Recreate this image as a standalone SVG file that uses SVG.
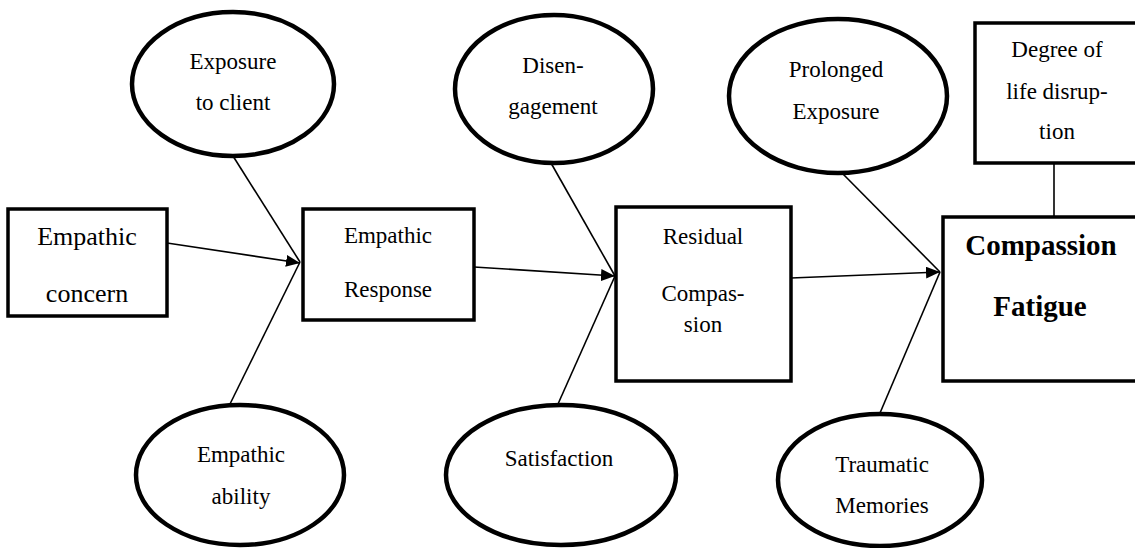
<svg xmlns="http://www.w3.org/2000/svg" width="1135" height="548" viewBox="0 0 1135 548">
<defs>
<marker id="arr" markerUnits="userSpaceOnUse" markerWidth="15" markerHeight="13" refX="14" refY="6" orient="auto">
<path d="M0,0 L14,6 L0,12 z" fill="#000"/>
</marker>
<style>
.box{fill:#fff;stroke:#000;stroke-width:3.5}
.ell{fill:#fff;stroke:#000;stroke-width:4.5}
.t{font-family:'Liberation Serif','Times New Roman',serif;font-size:23px;fill:#000;text-anchor:middle}
.big{font-size:26px}
.bold{font-size:29px;font-weight:bold}
.c{stroke:#000;stroke-width:1.6;fill:none}
</style>
</defs>
<g id="connectors">
<line class="c" x1="167" y1="243" x2="300" y2="263" marker-end="url(#arr)"/>
<line class="c" x1="233" y1="156" x2="300" y2="262"/>
<line class="c" x1="230" y1="404" x2="300" y2="262"/>
<line class="c" x1="474" y1="267" x2="615" y2="276" marker-end="url(#arr)"/>
<line class="c" x1="551" y1="163" x2="615" y2="276"/>
<line class="c" x1="558" y1="404" x2="615" y2="276"/>
<line class="c" x1="791" y1="278" x2="940" y2="272" marker-end="url(#arr)"/>
<line class="c" x1="842" y1="173" x2="940" y2="272"/>
<line class="c" x1="880" y1="413" x2="940" y2="272"/>
<line class="c" x1="1054" y1="163" x2="1054" y2="217"/>
</g>
<g id="empathic-concern">
<rect class="box" x="8" y="209" width="159" height="107"/>
<text class="t big" x="87" y="245">Empathic</text>
<text class="t big" x="87" y="302">concern</text>
</g>
<g id="exposure-to-client">
<ellipse class="ell" cx="233" cy="84" rx="101" ry="72"/>
<text class="t" x="233" y="69">Exposure</text>
<text class="t" x="233" y="110">to client</text>
</g>
<g id="empathic-ability">
<ellipse class="ell" cx="240" cy="475" rx="104" ry="70"/>
<text class="t" x="241" y="462">Empathic</text>
<text class="t" x="241" y="504">ability</text>
</g>
<g id="empathic-response">
<rect class="box" x="303" y="209" width="171" height="111"/>
<text class="t" x="388" y="243">Empathic</text>
<text class="t" x="388" y="297">Response</text>
</g>
<g id="disengagement">
<ellipse class="ell" cx="554" cy="89" rx="99" ry="74"/>
<text class="t" x="553" y="73">Disen-</text>
<text class="t" x="553" y="114">gagement</text>
</g>
<g id="satisfaction">
<ellipse class="ell" cx="561" cy="475" rx="115" ry="70"/>
<text class="t" x="559" y="466">Satisfaction</text>
</g>
<g id="residual-compassion">
<rect class="box" x="616" y="207" width="175" height="174"/>
<text class="t" x="703" y="244">Residual</text>
<text class="t" x="703" y="301">Compas-</text>
<text class="t" x="703" y="332">sion</text>
</g>
<g id="prolonged-exposure">
<ellipse class="ell" cx="838" cy="96" rx="109" ry="77"/>
<text class="t" x="836" y="77">Prolonged</text>
<text class="t" x="836" y="119">Exposure</text>
</g>
<g id="traumatic-memories">
<ellipse class="ell" cx="880" cy="480" rx="102" ry="66"/>
<text class="t" x="882" y="472">Traumatic</text>
<text class="t" x="882" y="513">Memories</text>
</g>
<g id="degree-of-life-disruption">
<rect class="box" x="975" y="23" width="175" height="140"/>
<text class="t" x="1057" y="57">Degree of</text>
<text class="t" x="1057" y="99">life disrup-</text>
<text class="t" x="1057" y="139">tion</text>
</g>
<g id="compassion-fatigue">
<rect class="box" x="943" y="217" width="210" height="164"/>
<text class="t bold" x="1041" y="255">Compassion</text>
<text class="t bold" x="1040" y="316">Fatigue</text>
</g>
</svg>
